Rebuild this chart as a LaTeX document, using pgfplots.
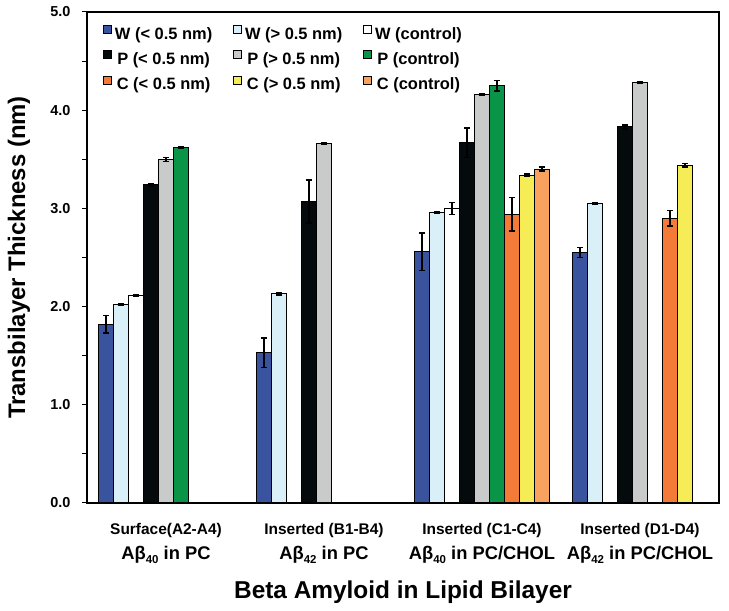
\documentclass[border=0pt]{standalone}
\usepackage{fontspec}
\setmainfont{Liberation Sans}
\usepackage{pgfplots}
\pgfplotsset{compat=1.18}
\definecolor{cWlo}{HTML}{3A539F}
\definecolor{cWhi}{HTML}{D9F0F8}
\definecolor{cWc}{HTML}{FFFFFF}
\definecolor{cPlo}{HTML}{050A0C}
\definecolor{cPhi}{HTML}{C9CBCA}
\definecolor{cPc}{HTML}{0A9448}
\definecolor{cClo}{HTML}{F47A38}
\definecolor{cChi}{HTML}{F6EC55}
\definecolor{cCc}{HTML}{F9A15E}
\newcommand{\sub}[1]{\raisebox{-0.45ex}{\fontsize{11.5}{12}\selectfont #1}}
\newcommand{\lineA}[1]{{\fontsize{15.5}{17}\selectfont\bfseries #1}}
\newcommand{\lineB}[1]{{\fontsize{18.4}{20}\selectfont\bfseries #1}}
\begin{document}
\begin{tikzpicture}
\begin{axis}[
  scale only axis,
  width=632bp, height=491bp,
  xmin=0.5, xmax=4.5, ymin=0, ymax=5,
  axis line style={line width=1.8pt},
  ybar, bar width=0.095, bar shift=0pt,
  xtick={1,2,3,4},
  xticklabels={
    {\lineA{Surface(A2-A4)}\\[7pt]\lineB{Aβ\sub{40} in PC}},
    {\lineA{Inserted (B1-B4)}\\[7pt]\lineB{Aβ\sub{42} in PC}},
    {\lineA{Inserted (C1-C4)}\\[7pt]\lineB{Aβ\sub{40} in PC/CHOL}},
    {\lineA{Inserted (D1-D4)}\\[7pt]\lineB{Aβ\sub{42} in PC/CHOL}}},
  xticklabel style={align=center, yshift=-12pt},
  x tick style={draw=none},
  extra x ticks={1.5,2.5,3.5,4.5},
  extra x tick labels={},
  extra x tick style={tick align=outside, major tick length=4pt, tick style={draw=gray, line width=0.6pt}},
  ytick={0,1,2,3,4,5},
  minor y tick num=1,
  ytick pos=left, xtick pos=bottom,
  tick align=outside,
  y tick style={line width=1pt, black},
  major tick length=5pt, minor tick length=5pt,
  yticklabel style={font=\bfseries\fontsize{14.5}{16}\selectfont, xshift=-8pt},
  /pgf/number format/assume math mode=true,
  yticklabel={\pgfmathprintnumber[fixed,fixed zerofill,precision=1]{\tick}},
  ylabel={\bfseries\fontsize{24}{26}\selectfont Transbilayer Thickness (nm)},
  y label style={at={(axis description cs:-0.1076,0.5)}, anchor=center},
  xlabel={\bfseries\fontsize{24.5}{26}\selectfont Beta Amyloid in Lipid Bilayer},
  x label style={at={(axis description cs:0.5,0)}, anchor=center, yshift=-89bp},
  every axis plot/.append style={draw=black, line width=1pt,
    /pgfplots/error bars/y dir=both, /pgfplots/error bars/y explicit,
    /pgfplots/error bars/error bar style={line width=1.4pt, black},
    /pgfplots/error bars/error mark options={rotate=90, mark size=3.2pt, line width=1.4pt, black}},
  legend columns=3,
  legend style={draw=none, fill=none, at={(axis description cs:0.0253,0.9735)}, anchor=north west,
    font=\bfseries\fontsize{16.5}{18}\selectfont,
    nodes={inner sep=0pt, text height=12bp, text depth=3.5bp},
    /tikz/every odd column/.append style={column sep=3bp},
    /tikz/every even column/.append style={column sep=21bp},
    row sep=7.5bp, inner sep=0pt},
  legend image code/.code={\draw[#1, draw=black, line width=0.8pt] (0bp,1.5bp) rectangle (8bp,9.5bp);},
]
\addplot[fill=cWlo] coordinates {(0.62,1.82) +- (0,0.09) (1.62,1.53) +- (0,0.15) (2.62,2.56) +- (0,0.19) (3.62,2.55) +- (0,0.05)};
\addlegendentry{W (< 0.5 nm)}
\addplot[fill=cWhi] coordinates {(0.715,2.02) +- (0,0.01) (1.715,2.13) +- (0,0.01) (2.715,2.96) +- (0,0.01) (3.715,3.05) +- (0,0.01)};
\addlegendentry{W (> 0.5 nm)}
\addplot[fill=cWc] coordinates {(0.81,2.11) +- (0,0.01) (2.81,3.00) +- (0,0.06)};
\addlegendentry{W (control)}
\addplot[fill=cPlo] coordinates {(0.905,3.24) +- (0,0.01) (1.905,3.07) +- (0,0.22) (2.905,3.67) +- (0,0.15) (3.905,3.83) +- (0,0.02)};
\addlegendentry{P (< 0.5 nm)}
\addplot[fill=cPhi] coordinates {(1,3.50) +- (0,0.02) (2,3.66) +- (0,0.01) (3,4.16) +- (0,0.01) (4,4.28) +- (0,0.01)};
\addlegendentry{P (> 0.5 nm)}
\addplot[fill=cPc] coordinates {(1.095,3.62) +- (0,0.01) (3.095,4.25) +- (0,0.055)};
\addlegendentry{P (control)}
\addplot[fill=cClo] coordinates {(3.19,2.94) +- (0,0.17) (4.19,2.90) +- (0,0.08)};
\addlegendentry{C (< 0.5 nm)}
\addplot[fill=cChi] coordinates {(3.285,3.34) +- (0,0.01) (4.285,3.44) +- (0,0.02)};
\addlegendentry{C (> 0.5 nm)}
\addplot[fill=cCc] coordinates {(3.38,3.40) +- (0,0.02)};
\addlegendentry{C (control)}
\end{axis}
\pgfresetboundingbox
\path[use as bounding box] ([shift={(-87bp,-108bp)}]current axis.south west) rectangle ([shift={(10bp,12bp)}]current axis.north east);
\end{tikzpicture}
\end{document}
